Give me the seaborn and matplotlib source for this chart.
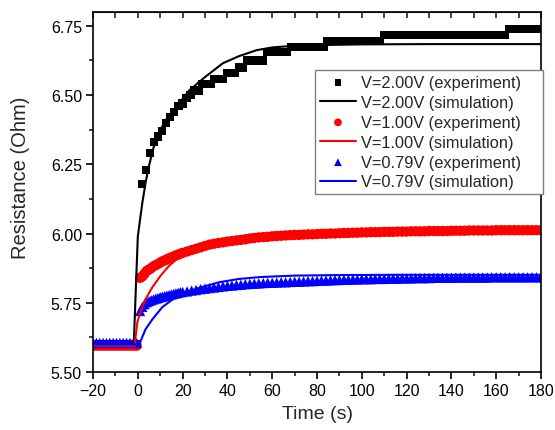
import numpy as np
import pandas as pd
import seaborn as sns
import matplotlib.pyplot as plt
from matplotlib.ticker import MultipleLocator, FormatStrFormatter

# samples before the voltage step
t_base = np.arange(-20, 0.5, 1.5)
base_2v, base_1v, base_079v = 5.60, 5.595, 5.605

# V=2.00V experiment (sampled every 1.8 s)
t_2v = np.arange(1.9, 180.2, 1.8)
r_2v = ([6.18, 6.23, 6.29, 6.33, 6.35, 6.37, 6.40, 6.42, 6.44, 6.46, 6.47, 6.49, 6.50]
        + [6.516] * 2 + [6.54] * 3 + [6.558] * 3 + [6.58] * 3 + [6.60] * 2
        + [6.625] * 5 + [6.655] * 6 + [6.673] * 9 + [6.695] * 14 + [6.717] * 31 + [6.739] * 9)

# V=1.00V and V=0.79V experiments
t_exp = np.r_[np.arange(1, 21), np.arange(22, 181, 2)]
r_1v = [5.84, 5.845, 5.855, 5.865, 5.87, 5.875, 5.882, 5.886, 5.89, 5.895,
        5.90, 5.903, 5.907, 5.911, 5.914, 5.917, 5.921, 5.924, 5.927, 5.93,
        5.935, 5.94, 5.945, 5.95, 5.955, 5.96, 5.963, 5.966, 5.968, 5.971,
        5.973, 5.975, 5.977, 5.979, 5.982, 5.984, 5.986, 5.987, 5.988, 5.99,
        5.991, 5.992, 5.993, 5.994, 5.995, 5.995, 5.996, 5.997, 5.997, 5.998,
        5.999, 5.999, 6.0, 6.0, 6.001, 6.002, 6.002, 6.003, 6.003, 6.004,
        6.004, 6.005, 6.005, 6.005, 6.006, 6.006, 6.006, 6.007, 6.007, 6.007,
        6.008, 6.008, 6.008, 6.008, 6.009, 6.009, 6.009, 6.009, 6.009, 6.01,
        6.01, 6.01, 6.01, 6.011, 6.011, 6.011, 6.011, 6.011, 6.011, 6.012]
r_1v += [6.012] * 10
r_079v = [5.72, 5.735, 5.745, 5.752, 5.756, 5.759, 5.762, 5.765, 5.767, 5.77,
          5.772, 5.774, 5.776, 5.778, 5.78, 5.782, 5.784, 5.786, 5.788, 5.789,
          5.791, 5.794, 5.796, 5.799, 5.801, 5.803, 5.805, 5.807, 5.809, 5.811,
          5.812, 5.814, 5.815, 5.817, 5.818, 5.819, 5.82, 5.821, 5.822, 5.822,
          5.823, 5.824, 5.824, 5.825, 5.826, 5.826, 5.827, 5.828, 5.828, 5.829,
          5.83, 5.83, 5.831, 5.832, 5.832, 5.833, 5.833, 5.834, 5.834, 5.835,
          5.835, 5.835, 5.836, 5.836, 5.836, 5.837, 5.837, 5.837, 5.838, 5.838,
          5.838, 5.839, 5.839, 5.839, 5.839, 5.84, 5.84, 5.84, 5.84, 5.84]
r_079v += [5.841] * 8 + [5.842] * 12

# simulation curves
ts_2v = [-20, -1.8, -0.8, 0, 0.5, 1, 2, 3.5, 5, 7, 9.5, 12.5, 17, 23, 30, 38, 45, 53,
         60, 70, 85, 100, 130, 180]
rs_2v = [5.60, 5.60, 5.82, 5.99, 6.02, 6.05, 6.11, 6.185, 6.245, 6.31, 6.366, 6.41,
         6.456, 6.517, 6.565, 6.615, 6.64, 6.662, 6.672, 6.678, 6.681, 6.683, 6.684, 6.684]
ts_1v = [-20, -1.5, -0.2, 1.3, 3.5, 6.5, 10.2, 14, 18.4, 25, 35, 50, 70, 100, 140, 180]
rs_1v = [5.595, 5.595, 5.68, 5.72, 5.764, 5.806, 5.848, 5.884, 5.914, 5.945, 5.975,
         5.995, 6.005, 6.01, 6.012, 6.012]
ts_079v = [-20, 0.8, 1.3, 3.5, 6.5, 10.9, 16.9, 25.8, 36.2, 45.2, 55, 70, 90, 120, 180]
rs_079v = [5.60, 5.60, 5.613, 5.655, 5.69, 5.734, 5.77, 5.80, 5.824, 5.836, 5.843,
           5.848, 5.85, 5.851, 5.851]

labels = ['V=2.00V (experiment)', 'V=2.00V (simulation)',
          'V=1.00V (experiment)', 'V=1.00V (simulation)',
          'V=0.79V (experiment)', 'V=0.79V (simulation)']


def exp_frame(base, t, r):
    return pd.DataFrame({'t': np.r_[t_base, t],
                         'R': np.r_[np.full(len(t_base), base), r]})


sns.set_style('ticks')
plt.rcParams['font.family'] = ['Liberation Sans', 'DejaVu Sans']

fig = plt.figure(figsize=(5.55, 4.31), dpi=100)
ax = fig.add_axes([0.1676, 0.1346, 0.8072, 0.8353])

series = [
    (exp_frame(base_2v, t_2v, r_2v), pd.DataFrame({'t': ts_2v, 'R': rs_2v}), 'black', 's', 36),
    (exp_frame(base_1v, t_exp, r_1v), pd.DataFrame({'t': ts_1v, 'R': rs_1v}), 'red', 'o', 55),
    (exp_frame(base_079v, t_exp, r_079v), pd.DataFrame({'t': ts_079v, 'R': rs_079v}), 'blue', '^', 55),
]
for i, (dexp, dsim, col, mk, size) in enumerate(series):
    sns.scatterplot(data=dexp, x='t', y='R', marker=mk, s=size, color=col,
                    edgecolor='none', linewidth=0, label=labels[2 * i], ax=ax)
    sns.lineplot(data=dsim, x='t', y='R', color=col, lw=1.5, estimator=None,
                 sort=False, label=labels[2 * i + 1], ax=ax)

ax.set_xlim(-20, 180)
ax.set_ylim(5.50, 6.80)
ax.xaxis.set_major_locator(MultipleLocator(20))
ax.xaxis.set_minor_locator(MultipleLocator(10))
ax.yaxis.set_major_locator(MultipleLocator(0.25))
ax.yaxis.set_minor_locator(MultipleLocator(0.125))
ax.yaxis.set_major_formatter(FormatStrFormatter('%.2f'))
ax.tick_params(which='major', direction='out', length=5, width=1.2, labelsize=11.5,
               colors='black', pad=3)
ax.tick_params(which='minor', direction='out', length=3, width=1.2)
for sp in ax.spines.values():
    sp.set_visible(True)
    sp.set_linewidth(1.2)
    sp.set_color('black')

top = ax.secondary_xaxis('top')
top.set_xticks(np.arange(-20, 181, 10))
top.tick_params(direction='in', length=4, width=1.2, labeltop=False)

ax.set_xlabel('Time (s)', fontsize=14, labelpad=5)
ax.set_ylabel('Resistance (Ohm)', fontsize=14.5)
ax.yaxis.set_label_coords(-0.141, 0.542)

leg = ax.legend(loc='upper left', bbox_to_anchor=(0.4955, 0.5, 0.509, 0.339),
                mode='expand', fontsize=11.8, frameon=True, fancybox=False,
                framealpha=1, edgecolor='#808080', handlelength=2.2,
                handletextpad=0.3, labelspacing=0.3, borderpad=0.3,
                borderaxespad=0, markerscale=0.75)
leg.get_frame().set_linewidth(1.0)

fig.savefig('out.png', dpi=100)
